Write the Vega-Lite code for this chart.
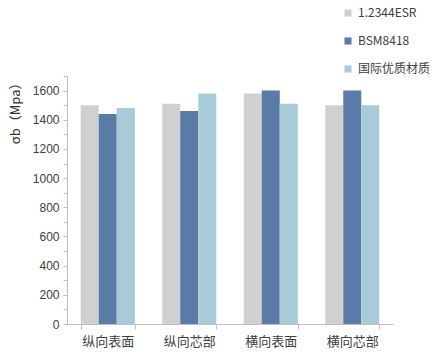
{
  "$schema": "https://vega.github.io/schema/vega-lite/v6.json",
  "width": 326,
  "height": 248,
  "autosize": {"type": "none"},
  "padding": {"left": 67, "top": 76, "right": 43, "bottom": 40},
  "background": "white",
  "config": {
    "view": {"stroke": null},
    "font": "Noto Sans CJK SC"
  },
  "data": {
    "values": [
      {"pos": "纵向表面", "mat": "1.2344ESR", "v": 1500},
      {"pos": "纵向表面", "mat": "BSM8418", "v": 1440},
      {"pos": "纵向表面", "mat": "国际优质材质", "v": 1480},
      {"pos": "纵向芯部", "mat": "1.2344ESR", "v": 1510},
      {"pos": "纵向芯部", "mat": "BSM8418", "v": 1460},
      {"pos": "纵向芯部", "mat": "国际优质材质", "v": 1580},
      {"pos": "横向表面", "mat": "1.2344ESR", "v": 1580},
      {"pos": "横向表面", "mat": "BSM8418", "v": 1600},
      {"pos": "横向表面", "mat": "国际优质材质", "v": 1510},
      {"pos": "横向芯部", "mat": "1.2344ESR", "v": 1500},
      {"pos": "横向芯部", "mat": "BSM8418", "v": 1600},
      {"pos": "横向芯部", "mat": "国际优质材质", "v": 1500}
    ]
  },
  "mark": {"type": "bar"},
  "encoding": {
    "x": {
      "field": "pos", "type": "nominal", "sort": null,
      "scale": {"paddingInner": 0.337, "paddingOuter": 0.1685},
      "axis": {
        "title": null, "labelAngle": 0, "labelFontSize": 13, "labelColor": "#404040",
        "labelPadding": 6, "domainColor": "#bfbfbf", "tickColor": "#bfbfbf",
        "tickBand": "extent", "tickSize": 5, "labelFont": "Noto Sans CJK SC"
      }
    },
    "xOffset": {"field": "mat", "type": "nominal", "sort": null, "scale": {"paddingInner": 0, "paddingOuter": 0}},
    "y": {
      "field": "v", "type": "quantitative",
      "scale": {"domain": [0, 1700], "nice": false},
      "axis": {
        "title": "σb（Mpa）", "titleAnchor": "end", "titleFontSize": 13, "titleFontWeight": "normal",
        "titleColor": "#333333", "titlePadding": 10,
        "values": [0,100,200,300,400,500,600,700,800,900,1000,1100,1200,1300,1400,1500,1600,1700],
        "labelExpr": "datum.value % 200 === 0 ? datum.label : ''",
        "format": "d",
        "labelFontSize": 12, "labelColor": "#404040", "labelFont": "Liberation Sans",
        "grid": false, "domainColor": "#bfbfbf", "tickColor": "#bfbfbf", "tickSize": 4, "labelPadding": 4
      }
    },
    "color": {
      "field": "mat", "type": "nominal", "sort": null,
      "scale": {"domain": ["1.2344ESR", "BSM8418", "国际优质材质"], "range": ["#d0d0d0", "#5a7aa8", "#a9cbd9"]},
      "legend": {
        "title": null, "orient": "none", "legendX": 275, "legendY": -69,
        "symbolType": "square", "symbolSize": 50, "symbolStrokeWidth": 0,
        "labelFontSize": 12, "labelColor": "#404040", "rowPadding": 16, "labelOffset": 4
      }
    }
  }
}
